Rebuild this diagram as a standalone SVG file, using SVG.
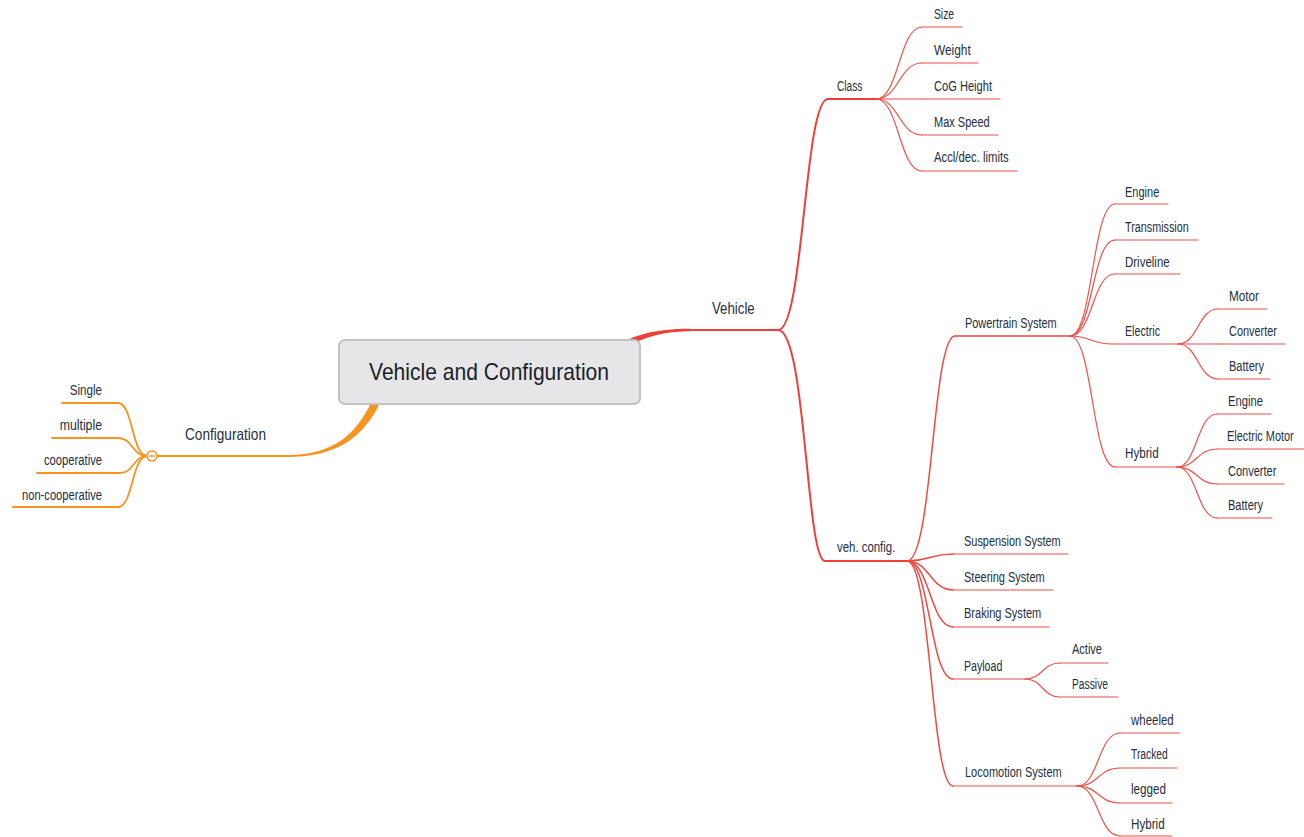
<svg xmlns="http://www.w3.org/2000/svg" width="1304" height="837" viewBox="0 0 1304 837">
  <defs>
    <style>
      text { font-family: "Liberation Sans", Arial, sans-serif; fill: #242e3e; }
      .t { font-size: 14px; }
      .t1 { font-size: 16.5px; }
      .tc { font-size: 24px; fill: #1a1f28; }
      .rm { fill: none; stroke: #ee4038; stroke-width: 2; stroke-linecap: round; }
      .rs { fill: none; stroke: #ef4a42; stroke-width: 1.5; stroke-linecap: round; }
      .rl { fill: none; stroke: #f05048; stroke-width: 1.2; stroke-linecap: round; }
      .om { fill: none; stroke: #f7931e; stroke-width: 2; stroke-linecap: round; }
      .ol { fill: none; stroke: #f7931e; stroke-width: 1.8; stroke-linecap: round; }
    </style>
  </defs>
  <rect width="1304" height="837" fill="#ffffff"/>

  <!-- curved links between topics -->
  <g id="connectors">
    <!-- root to main branches (tapered) -->
    <path d="M628,339.5 C648,331 668,328.8 690,328.8 L690,331.2 C670,331.2 652,334.5 633,343.5 Z" fill="#ee4038"/>
    <path d="M371,403 C357,432 335,455 288,455 L288,457 C338,457 364,436 380,403 Z" fill="#f7931e"/>

    <!-- Vehicle -->
    <path class="rm" d="M778,330 C804,330 804,99 828,99"/>
    <path class="rm" d="M778,330 C806,330 806,561 825,561"/>

    <!-- Class -->
    <path class="rl" d="M876,99 C899,99 899,27 922,27"/>
    <path class="rl" d="M876,99 C899,99 899,63 922,63"/>
    <path class="rl" d="M876,99 L922,99"/>
    <path class="rl" d="M876,99 C899,99 899,135 922,135"/>
    <path class="rl" d="M876,99 C899,99 899,171 922,171"/>

    <!-- veh. config. -->
    <path class="rs" d="M907,561 C933,561 932,336 955,336"/>
    <path class="rs" d="M907,561 C930,561 930,554 953,554"/>
    <path class="rs" d="M907,561 C930,561 930,590 953,590"/>
    <path class="rs" d="M907,561 C930,561 930,627 953,627"/>
    <path class="rs" d="M907,561 C930,561 930,679 953,679"/>
    <path class="rs" d="M907,561 C931,561 931,786 953,786"/>

    <!-- Powertrain System -->
    <path class="rl" d="M1070,336 C1093,336 1092,204 1115,204"/>
    <path class="rl" d="M1070,336 C1093,336 1092,240 1115,240"/>
    <path class="rl" d="M1070,336 C1093,336 1092,274 1115,274"/>
    <path class="rl" d="M1070,336 C1091,336 1091,344 1112,344"/>
    <path class="rl" d="M1070,336 C1093,336 1092,467 1115,467"/>

    <!-- Electric -->
    <path class="rl" d="M1178,344 C1198,344 1198,309 1218,309"/>
    <path class="rl" d="M1178,344 L1218,344"/>
    <path class="rl" d="M1178,344 C1198,344 1198,379 1218,379"/>

    <!-- Hybrid (powertrain) -->
    <path class="rl" d="M1177,467 C1197,467 1197,414 1217,414"/>
    <path class="rl" d="M1177,467 C1197,467 1197,449 1217,449"/>
    <path class="rl" d="M1177,467 C1197,467 1197,484 1217,484"/>
    <path class="rl" d="M1177,467 C1197,467 1197,518 1217,518"/>

    <!-- Payload -->
    <path class="rl" d="M1025,679 C1043,679 1042,663 1060,663"/>
    <path class="rl" d="M1025,679 C1043,679 1042,697 1060,697"/>

    <!-- Locomotion System -->
    <path class="rl" d="M1077,786 C1099,786 1098,733 1120,733"/>
    <path class="rl" d="M1077,786 C1099,786 1098,768 1120,768"/>
    <path class="rl" d="M1077,786 C1099,786 1098,803 1120,803"/>
    <path class="rl" d="M1077,786 C1099,786 1098,836 1120,836"/>

    <!-- Configuration -->
    <path class="ol" d="M147,456 C132,456 133,403 118,403"/>
    <path class="ol" d="M147,456 C132,456 133,438 118,438"/>
    <path class="ol" d="M147,456 C133,456 134,473 120,473"/>
    <path class="ol" d="M147,456 C132,456 133,507 118,507"/>
  </g>

  <!-- root topic -->
  <g id="root">
    <rect x="339" y="340" width="301" height="64" rx="6" ry="6" fill="#e6e6e9" stroke="#c2c2c4" stroke-width="2"/>
    <text class="tc" x="369" y="380" textLength="240" lengthAdjust="spacingAndGlyphs">Vehicle and Configuration</text>
  </g>

  <!-- Vehicle branch -->
  <g id="vehicle">
    <line class="rm" x1="690" y1="330" x2="778" y2="330"/>
    <text class="t1" x="712" y="314" textLength="42.7" lengthAdjust="spacingAndGlyphs">Vehicle</text>
  </g>
  <g id="class">
    <line class="rm" x1="828" y1="99" x2="876" y2="99" style="stroke-width:1.8"/>
    <text class="t" x="837" y="91" textLength="25.3" lengthAdjust="spacingAndGlyphs">Class</text>
  </g>
  <g id="size">
    <line class="rl" x1="922" y1="27" x2="962" y2="27"/>
    <text class="t" x="934" y="19" textLength="20" lengthAdjust="spacingAndGlyphs">Size</text>
  </g>
  <g id="weight">
    <line class="rl" x1="922" y1="63" x2="978" y2="63"/>
    <text class="t" x="934" y="55" textLength="36.7" lengthAdjust="spacingAndGlyphs">Weight</text>
  </g>
  <g id="cog-height">
    <line class="rl" x1="922" y1="99" x2="1000" y2="99"/>
    <text class="t" x="934" y="91" textLength="58" lengthAdjust="spacingAndGlyphs">CoG Height</text>
  </g>
  <g id="max-speed">
    <line class="rl" x1="922" y1="135" x2="998" y2="135"/>
    <text class="t" x="934" y="127" textLength="55.7" lengthAdjust="spacingAndGlyphs">Max Speed</text>
  </g>
  <g id="accl-limits">
    <line class="rl" x1="922" y1="171" x2="1017" y2="171"/>
    <text class="t" x="934" y="162" textLength="74.7" lengthAdjust="spacingAndGlyphs">Accl/dec. limits</text>
  </g>

  <g id="veh-config">
    <line class="rm" x1="825" y1="561" x2="907" y2="561" style="stroke-width:1.8"/>
    <text class="t" x="837" y="552" textLength="58.3" lengthAdjust="spacingAndGlyphs">veh. config.</text>
  </g>

  <g id="powertrain">
    <line class="rs" x1="955" y1="336" x2="1070" y2="336"/>
    <text class="t" x="965" y="328" textLength="91.7" lengthAdjust="spacingAndGlyphs">Powertrain System</text>
  </g>
  <g id="pt-engine">
    <line class="rl" x1="1115" y1="204" x2="1168" y2="204"/>
    <text class="t" x="1125" y="197" textLength="34.3" lengthAdjust="spacingAndGlyphs">Engine</text>
  </g>
  <g id="pt-transmission">
    <line class="rl" x1="1115" y1="240" x2="1198" y2="240"/>
    <text class="t" x="1125" y="232" textLength="63.7" lengthAdjust="spacingAndGlyphs">Transmission</text>
  </g>
  <g id="pt-driveline">
    <line class="rl" x1="1115" y1="274" x2="1180" y2="274"/>
    <text class="t" x="1125" y="267" textLength="44.7" lengthAdjust="spacingAndGlyphs">Driveline</text>
  </g>
  <g id="pt-electric">
    <line class="rl" x1="1112" y1="344" x2="1178" y2="344"/>
    <text class="t" x="1125" y="336" textLength="35" lengthAdjust="spacingAndGlyphs">Electric</text>
  </g>
  <g id="el-motor">
    <line class="rl" x1="1218" y1="309" x2="1267" y2="309"/>
    <text class="t" x="1229" y="301" textLength="30" lengthAdjust="spacingAndGlyphs">Motor</text>
  </g>
  <g id="el-converter">
    <line class="rl" x1="1218" y1="344" x2="1285" y2="344"/>
    <text class="t" x="1229" y="336" textLength="48" lengthAdjust="spacingAndGlyphs">Converter</text>
  </g>
  <g id="el-battery">
    <line class="rl" x1="1218" y1="379" x2="1270" y2="379"/>
    <text class="t" x="1229" y="371" textLength="35" lengthAdjust="spacingAndGlyphs">Battery</text>
  </g>
  <g id="pt-hybrid">
    <line class="rl" x1="1115" y1="467" x2="1177" y2="467"/>
    <text class="t" x="1125" y="458" textLength="33.7" lengthAdjust="spacingAndGlyphs">Hybrid</text>
  </g>
  <g id="hy-engine">
    <line class="rl" x1="1217" y1="414" x2="1271" y2="414"/>
    <text class="t" x="1228" y="406" textLength="35" lengthAdjust="spacingAndGlyphs">Engine</text>
  </g>
  <g id="hy-electric-motor">
    <line class="rl" x1="1217" y1="449" x2="1304" y2="449"/>
    <text class="t" transform="translate(1227,441) scale(0.78,1)">Electric Motor</text>
  </g>
  <g id="hy-converter">
    <line class="rl" x1="1217" y1="484" x2="1284" y2="484"/>
    <text class="t" x="1228" y="476" textLength="48.3" lengthAdjust="spacingAndGlyphs">Converter</text>
  </g>
  <g id="hy-battery">
    <line class="rl" x1="1217" y1="518" x2="1272" y2="518"/>
    <text class="t" x="1228" y="510" textLength="35" lengthAdjust="spacingAndGlyphs">Battery</text>
  </g>

  <g id="suspension">
    <line class="rl" x1="953" y1="554" x2="1068" y2="554"/>
    <text class="t" x="964" y="546" textLength="96.7" lengthAdjust="spacingAndGlyphs">Suspension System</text>
  </g>
  <g id="steering">
    <line class="rl" x1="953" y1="590" x2="1053" y2="590"/>
    <text class="t" x="964" y="582" textLength="80.7" lengthAdjust="spacingAndGlyphs">Steering System</text>
  </g>
  <g id="braking">
    <line class="rl" x1="953" y1="627" x2="1049" y2="627"/>
    <text class="t" x="964" y="618" textLength="77.3" lengthAdjust="spacingAndGlyphs">Braking System</text>
  </g>
  <g id="payload">
    <line class="rl" x1="953" y1="679" x2="1025" y2="679"/>
    <text class="t" x="964" y="671" textLength="38.3" lengthAdjust="spacingAndGlyphs">Payload</text>
  </g>
  <g id="pl-active">
    <line class="rl" x1="1060" y1="663" x2="1108" y2="663"/>
    <text class="t" x="1072" y="654" textLength="30" lengthAdjust="spacingAndGlyphs">Active</text>
  </g>
  <g id="pl-passive">
    <line class="rl" x1="1060" y1="697" x2="1118" y2="697"/>
    <text class="t" x="1072" y="689" textLength="36" lengthAdjust="spacingAndGlyphs">Passive</text>
  </g>
  <g id="locomotion">
    <line class="rl" x1="953" y1="786" x2="1077" y2="786"/>
    <text class="t" x="965" y="777" textLength="96.7" lengthAdjust="spacingAndGlyphs">Locomotion System</text>
  </g>
  <g id="lo-wheeled">
    <line class="rl" x1="1120" y1="733" x2="1180" y2="733"/>
    <text class="t" x="1131" y="725" textLength="42.7" lengthAdjust="spacingAndGlyphs">wheeled</text>
  </g>
  <g id="lo-tracked">
    <line class="rl" x1="1120" y1="768" x2="1177" y2="768"/>
    <text class="t" x="1131" y="759" textLength="36.7" lengthAdjust="spacingAndGlyphs">Tracked</text>
  </g>
  <g id="lo-legged">
    <line class="rl" x1="1120" y1="803" x2="1172" y2="803"/>
    <text class="t" x="1131" y="794" textLength="35" lengthAdjust="spacingAndGlyphs">legged</text>
  </g>
  <g id="lo-hybrid">
    <line class="rl" x1="1120" y1="836" x2="1172" y2="836"/>
    <text class="t" x="1131" y="829" textLength="33.7" lengthAdjust="spacingAndGlyphs">Hybrid</text>
  </g>

  <!-- Configuration branch -->
  <g id="configuration">
    <line class="om" x1="157" y1="456" x2="288" y2="456"/>
    <text class="t1" x="185" y="440" textLength="81" lengthAdjust="spacingAndGlyphs">Configuration</text>
    <circle cx="152" cy="456" r="5" fill="#ffffff" stroke="#f7931e" stroke-width="1.4"/>
    <line x1="149" y1="456" x2="155" y2="456" stroke="#f7931e" stroke-width="1.4"/>
  </g>
  <g id="cfg-single">
    <line class="ol" x1="62" y1="403" x2="118" y2="403"/>
    <text class="t" x="102" y="395" text-anchor="end" textLength="32.3" lengthAdjust="spacingAndGlyphs">Single</text>
  </g>
  <g id="cfg-multiple">
    <line class="ol" x1="52" y1="438" x2="118" y2="438"/>
    <text class="t" x="102" y="430" text-anchor="end" textLength="42.3" lengthAdjust="spacingAndGlyphs">multiple</text>
  </g>
  <g id="cfg-cooperative">
    <line class="ol" x1="37" y1="473" x2="120" y2="473"/>
    <text class="t" x="102" y="465" text-anchor="end" textLength="58" lengthAdjust="spacingAndGlyphs">cooperative</text>
  </g>
  <g id="cfg-non-cooperative">
    <line class="ol" x1="13" y1="507" x2="118" y2="507"/>
    <text class="t" x="102" y="500" text-anchor="end" textLength="80" lengthAdjust="spacingAndGlyphs">non-cooperative</text>
  </g>
</svg>
